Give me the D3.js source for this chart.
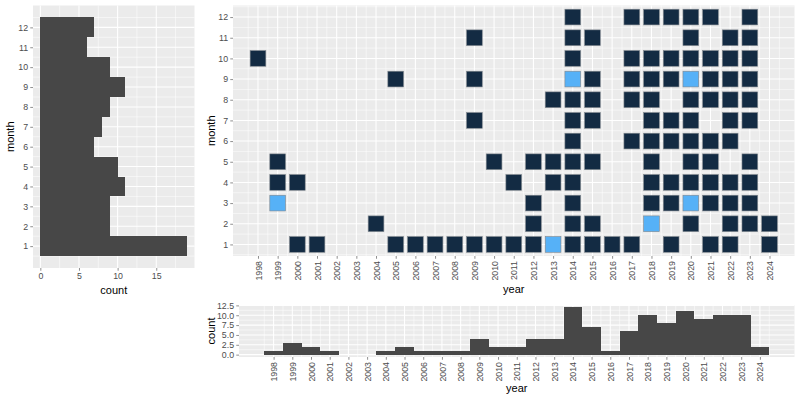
<!DOCTYPE html>
<html>
<head>
<meta charset="utf-8">
<script src="https://cdn.jsdelivr.net/npm/d3@7"></script>
<style>
  body { margin: 0; background: #fff; }
  text { font-family: "Liberation Sans", Arial, Helvetica, sans-serif; }
  .tick text { fill: #4D4D4D; font-size: 8.8px; }
  .tick line { stroke: #333333; stroke-width: 0.55; }
  .domain { display: none; }
  .title { font-size: 11px; fill: #000; }
</style>
</head>
<body>
<svg width="800" height="400"></svg>
<script>
// years (per month row) that have a tile; index 0 = January
var month1 = [2000, 2001, 2005, 2006, 2007, 2008, 2009, 2010, 2011, 2012, 2013, 2014, 2015, 2016, 2017, 2019, 2021, 2022, 2024];
var month2 = [2004, 2012, 2014, 2015, 2018, 2020, 2022, 2023, 2024];
var month3 = [1999, 2012, 2014, 2018, 2019, 2020, 2021, 2022, 2023];
var month4 = [1999, 2000, 2011, 2013, 2014, 2018, 2019, 2020, 2021, 2022, 2023];
var month5 = [1999, 2010, 2012, 2013, 2014, 2015, 2018, 2020, 2021, 2023];
var month6 = [2014, 2017, 2018, 2019, 2020, 2021, 2022];
var month7 = [2009, 2014, 2015, 2018, 2019, 2020, 2022, 2023];
var month8 = [2013, 2014, 2015, 2017, 2018, 2020, 2021, 2022, 2023];
var month9 = [2005, 2009, 2014, 2015, 2017, 2018, 2019, 2020, 2021, 2022, 2023];
var month10 = [1998, 2014, 2017, 2018, 2019, 2020, 2021, 2022, 2023];
var month11 = [2009, 2014, 2015, 2020, 2022, 2023];
var month12 = [2014, 2017, 2018, 2019, 2020, 2021, 2023];
var monthRows = [month1, month2, month3, month4, month5, month6, month7, month8, month9, month10, month11, month12];

// tiles with two entries (lighter fill): [year, month]
var doubleTiles = [[1999, 3], [2013, 1], [2014, 9], [2018, 2], [2020, 3], [2020, 9]];

var yearTicks = [1998, 1999, 2000, 2001, 2002, 2003, 2004, 2005, 2006, 2007, 2008, 2009, 2010,
                 2011, 2012, 2013, 2014, 2015, 2016, 2017, 2018, 2019, 2020, 2021, 2022, 2023, 2024];
var monthTicks = [1, 2, 3, 4, 5, 6, 7, 8, 9, 10, 11, 12];
var leftCountTicks = [0, 5, 10, 15];
var bottomCountTicks = [0, 2.5, 5, 7.5, 10, 12.5];

var tiles = [];
monthRows.forEach(function (row, i) {
  row.forEach(function (yr) {
    var dbl = doubleTiles.some(function (d) { return d[0] === yr && d[1] === i + 1; });
    tiles.push({year: yr, month: i + 1, n: dbl ? 2 : 1});
  });
});

var monthCounts = monthTicks.map(function (m) {
  return {month: m, count: tiles.filter(function (t) { return t.month === m; }).length};
});
var yearCounts = yearTicks.map(function (y) {
  return {year: y, count: tiles.filter(function (t) { return t.year === y; }).length};
});

var svg = d3.select("svg");
var barFill = "#474747";

function minorOf(major) {
  var step = major[1] - major[0];
  var ext = [major[0] - step].concat(major, [major[major.length - 1] + step]);
  var out = [];
  for (var i = 0; i < ext.length - 1; i++) out.push((ext[i] + ext[i + 1]) / 2);
  return out;
}

function panel(x, y, xMajor, yMajor) {
  var x0 = x.range()[0], x1 = x.range()[1], y0 = y.range()[1], y1 = y.range()[0];
  var g = svg.append("g");
  g.append("rect").attr("x", x0).attr("y", y0)
    .attr("width", x1 - x0).attr("height", y1 - y0).attr("fill", "#EBEBEB");
  var xd = x.domain(), yd = y.domain();
  var inX = function (v) { return v >= xd[0] && v <= xd[1]; };
  var inY = function (v) { return v >= yd[0] && v <= yd[1]; };
  g.selectAll(".vminor").data(minorOf(xMajor).filter(inX)).enter().append("line")
    .attr("x1", x).attr("x2", x).attr("y1", y0).attr("y2", y1)
    .attr("stroke", "#fff").attr("stroke-width", 0.53);
  g.selectAll(".hminor").data(minorOf(yMajor).filter(inY)).enter().append("line")
    .attr("y1", y).attr("y2", y).attr("x1", x0).attr("x2", x1)
    .attr("stroke", "#fff").attr("stroke-width", 0.53);
  g.selectAll(".vmajor").data(xMajor.filter(inX)).enter().append("line")
    .attr("x1", x).attr("x2", x).attr("y1", y0).attr("y2", y1)
    .attr("stroke", "#fff").attr("stroke-width", 1.07);
  g.selectAll(".hmajor").data(yMajor.filter(inY)).enter().append("line")
    .attr("y1", y).attr("y2", y).attr("x1", x0).attr("x2", x1)
    .attr("stroke", "#fff").attr("stroke-width", 1.07);
  return g;
}

function leftAxis(y, xPos, ticks, fmt) {
  svg.append("g")
    .attr("transform", "translate(" + xPos + ",0)")
    .call(d3.axisLeft(y).tickValues(ticks).tickSize(2.75).tickPadding(2.2).tickFormat(fmt));
}

function bottomAxis(x, yPos, ticks, rotate) {
  var ax = svg.append("g")
    .attr("transform", "translate(0," + yPos + ")")
    .call(d3.axisBottom(x).tickValues(ticks).tickSize(2.75).tickPadding(2.2).tickFormat(d3.format("d")));
  if (rotate) {
    ax.selectAll(".tick text")
      .attr("y", 0).attr("x", -5).attr("dy", "0.35em")
      .attr("transform", "rotate(-90)")
      .style("text-anchor", "end");
  }
}

function title(txt, x, y, rot) {
  svg.append("text").attr("class", "title")
    .attr("text-anchor", "middle")
    .attr("transform", "translate(" + x + "," + y + ")" + (rot ? " rotate(-90)" : ""))
    .text(txt);
}

// ---- left: month histogram (horizontal) ----
var lx = d3.scaleLinear().domain([-0.95, 19.95]).range([33, 194.5]);
var ly = d3.scaleLinear().domain([-0.1, 13.1]).range([268, 5.5]);
var lg = panel(lx, ly, leftCountTicks, monthTicks);
lg.selectAll(".bar").data(monthCounts).enter().append("rect")
  .attr("x", lx(0))
  .attr("y", function (d) { return ly(d.month + 0.5); })
  .attr("width", function (d) { return lx(d.count) - lx(0); })
  .attr("height", function (d) { return ly(d.month - 0.5) - ly(d.month + 0.5); })
  .attr("fill", barFill).attr("shape-rendering", "crispEdges");
leftAxis(ly, 33, monthTicks, d3.format("d"));
bottomAxis(lx, 268, leftCountTicks, false);
title("month", 14, (5.5 + 268) / 2, true);
title("count", (33 + 194.5) / 2, 294, false);

// ---- main: tiles ----
var mx = d3.scaleLinear().domain([1996.73, 2025.27]).range([233, 794.5]);
var my = d3.scaleLinear().domain([0.44, 12.56]).range([256, 5.5]);
var mg = panel(mx, my, yearTicks, monthTicks);
var fill = d3.scaleLinear().domain([1, 2]).range(["#132B43", "#56B1F7"]);
var side = 15.7;
mg.selectAll(".tile").data(tiles).enter().append("rect")
  .attr("x", function (d) { return mx(d.year) - side / 2; })
  .attr("y", function (d) { return my(d.month) - side / 2; })
  .attr("width", side).attr("height", side)
  .attr("fill", function (d) { return fill(d.n); })
  .attr("stroke", "#7f868d").attr("stroke-width", 0.6);
leftAxis(my, 233, monthTicks, d3.format("d"));
bottomAxis(mx, 256, yearTicks, true);
title("month", 215, (5.5 + 256) / 2, true);
title("year", (233 + 794.5) / 2, 293, false);

// ---- bottom: year histogram ----
var bx = d3.scaleLinear().domain([1996.15, 2025.85]).range([239, 794.5]);
var by = d3.scaleLinear().domain([-0.6, 12.6]).range([357, 305]);
var bg = panel(bx, by, yearTicks, bottomCountTicks);
bg.selectAll(".bar").data(yearCounts.filter(function (d) { return d.count > 0; })).enter().append("rect")
  .attr("x", function (d) { return bx(d.year - 0.5); })
  .attr("y", function (d) { return by(d.count); })
  .attr("width", function (d) { return bx(d.year + 0.5) - bx(d.year - 0.5); })
  .attr("height", function (d) { return by(0) - by(d.count); })
  .attr("fill", barFill).attr("shape-rendering", "crispEdges");
leftAxis(by, 239, bottomCountTicks, d3.format(".1f"));
bottomAxis(bx, 357, yearTicks, true);
title("count", 215, (305 + 357) / 2, true);
title("year", (239 + 794.5) / 2, 392, false);
</script>
</body>
</html>
